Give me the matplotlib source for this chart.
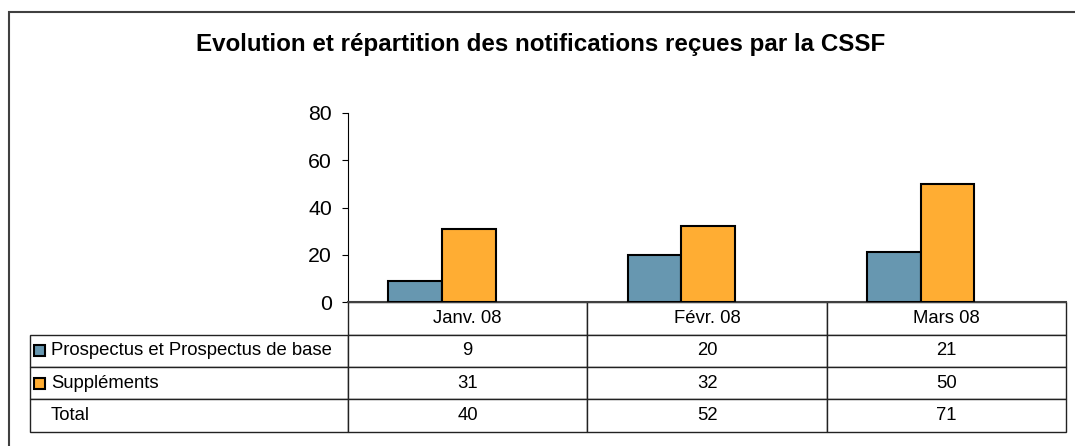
import matplotlib
matplotlib.use('Agg')
from matplotlib import pyplot as plt
from matplotlib.patches import Rectangle
from matplotlib.table import Table
import numpy as np

plt.rcParams['font.family'] = ['Liberation Sans', 'DejaVu Sans']

months = ['Janv. 08', 'Févr. 08', 'Mars 08']
series_names = ['Prospectus et Prospectus de base', 'Suppléments']
prospectus = [9, 20, 21]
supplements = [31, 32, 50]
totals = [40, 52, 71]
colors = ['#6797B0', '#FFAD33']
title = 'Evolution et répartition des notifications reçues par la CSSF'


def main():
    W, H = 1075, 446
    fig = plt.figure(figsize=(W / 100, H / 100), dpi=100)
    fig.patch.set_facecolor('white')

    # axes in pixel coordinates
    ax_l, ax_r, ax_t, ax_b = 348, 1066, 113, 302
    ax = fig.add_axes([ax_l / W, 1 - ax_b / H, (ax_r - ax_l) / W, (ax_b - ax_t) / H])

    x = np.arange(len(months))
    bw = 0.224
    shift = -0.107  # excel puts the pair left of the column centre
    ax.bar(x + shift - bw / 2, prospectus, bw, color=colors[0], edgecolor='black', linewidth=1.5, zorder=3)
    ax.bar(x + shift + bw / 2, supplements, bw, color=colors[1], edgecolor='black', linewidth=1.5, zorder=3)

    ax.set_xlim(-0.5, len(months) - 0.5)
    ax.set_ylim(0, 80)
    ax.set_yticks([0, 20, 40, 60, 80])
    ax.tick_params(axis='y', direction='out', length=4.5, width=0.8, pad=7, labelsize=15.3)
    ax.tick_params(axis='x', bottom=False, labelbottom=False)
    for s in ['top', 'right']:
        ax.spines[s].set_visible(False)
    ax.spines['left'].set_linewidth(0.8)
    ax.spines['bottom'].set_color('#404040')
    ax.spines['bottom'].set_linewidth(1.5)

    # data table under the chart (bbox covers the data columns only)
    ax_w, ax_h = ax_r - ax_l, ax_b - ax_t
    tb_l, tb_b = 30, 432
    tb_h = (tb_b - ax_b) / ax_h
    row_lab_w = ax_l - tb_l
    rows = [prospectus, supplements, totals]
    row_labels = series_names + ['Total']
    tbl = Table(ax, bbox=[0, -tb_h, 1, tb_h])
    cw = 1 / 3
    rh = tb_h / 4
    for j, m in enumerate(months):
        tbl.add_cell(0, j, cw, rh, text=m, loc='center')
    for i, (lab, vals) in enumerate(zip(row_labels, rows)):
        c = tbl.add_cell(i + 1, -1, row_lab_w / ax_w, rh, text=lab, loc='left')
        c.PAD = 21 / row_lab_w
        for j, v in enumerate(vals):
            tbl.add_cell(i + 1, j, cw, rh, text=str(v), loc='center')
    tbl.auto_set_font_size(False)
    tbl.set_fontsize(13.3)
    for cell in tbl.get_celld().values():
        cell.set_edgecolor('#222222')
        cell.set_linewidth(1.0)
    ax.add_table(tbl)

    # colour keys in row labels
    row_h = (tb_b - ax_b) / 4
    sq = 11
    for i, col in enumerate(colors):
        cy = ax_b + row_h * (i + 1.5)
        ax.add_patch(Rectangle(((34 - ax_l) / ax_w, -(cy + sq / 2 - ax_b) / ax_h), sq / ax_w, sq / ax_h,
                               transform=ax.transAxes, facecolor=col, edgecolor='black',
                               linewidth=1.5, clip_on=False))

    fig.text(541 / W, 1 - 44 / H, title, ha='center', va='center', fontsize=17.4, fontweight='bold')

    # outer frame (only left and top visible in the crop)
    fig.patches.append(Rectangle((8.5 / W, -0.1), 2, 1.1 - 12 / H, transform=fig.transFigure,
                                 fill=False, edgecolor='#404040', linewidth=1.5))

    fig.savefig('out.png', dpi=100)


if __name__ == '__main__':
    main()
